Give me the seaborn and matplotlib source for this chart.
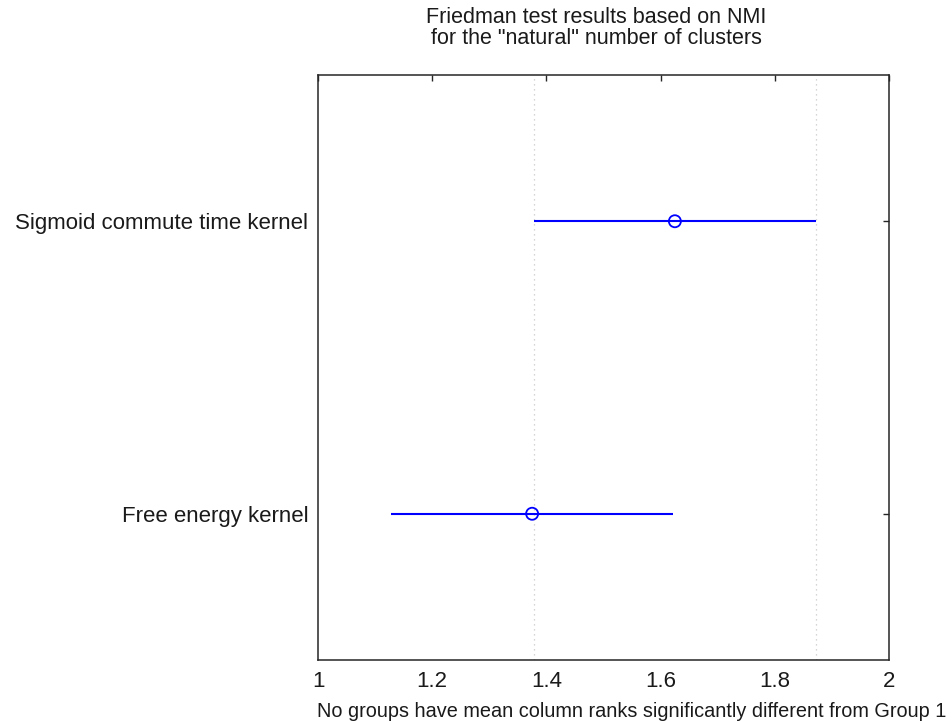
import matplotlib
matplotlib.use("Agg")
import matplotlib.pyplot as plt
import seaborn as sns
import pandas as pd
import numpy as np

# Data (mean column ranks and comparison intervals)
groups = ["Sigmoid commute time kernel", "Free energy kernel"]
means = [1.625, 1.375]
lower = [1.3785, 1.1285]
upper = [1.8715, 1.6215]
ref_lower = 1.3785   # interval of Group 1 (reference lines)
ref_upper = 1.8715
xticks = [1, 1.2, 1.4, 1.6, 1.8, 2]
xtick_labels = ["1", "1.2", "1.4", "1.6", "1.8", "2"]

title_text = "Friedman test results based on NMI\nfor the \"natural\" number of clusters"
xlabel_text = "No groups have mean column ranks significantly different from Group 1"

sns.set_style("white")
plt.rcParams['font.family'] = ['Liberation Sans', 'DejaVu Sans']

df = pd.DataFrame({"group": groups, "mean": means, "lower": lower,
                   "upper": upper, "pos": np.arange(1, len(groups) + 1)})

fig = plt.figure(figsize=(9.52, 7.21), dpi=100)
ax = fig.add_axes([318 / 952, 1 - 660 / 721, (889 - 318) / 952, (660 - 75) / 721])

# reference dotted lines
for v in (ref_lower, ref_upper):
    ax.axvline(v, color="#c8c8c8", linestyle=(0, (1, 3)), linewidth=0.9, zorder=1)

ax.hlines(df["pos"], df["lower"], df["upper"], color="#0000ff", linewidth=1.5, zorder=2)
sns.scatterplot(data=df, x="mean", y="pos", ax=ax, marker="o", s=75,
                facecolor="none", edgecolor="#0000ff", linewidth=1.3, zorder=3,
                legend=False)

ax.set_xlim(1, 2)
ax.set_ylim(len(groups) + 0.5, 0.5)
ax.set_xticks(xticks)
ax.set_xticklabels(xtick_labels)
ax.set_yticks(df["pos"])
ax.set_yticklabels(groups)

ax.tick_params(axis="both", direction="in", length=4.5, width=1.0, color="#262626",
               labelsize=16, labelcolor="#1a1a1a", top=True, right=True)
ax.tick_params(axis="x", pad=8)
ax.tick_params(axis="y", pad=7)
for sp in ax.spines.values():
    sp.set_color("#262626")
    sp.set_linewidth(1.1)
    sp.set_visible(True)

ax.set_ylabel("")
ax.set_xlabel(xlabel_text, fontsize=14.3, color="#1a1a1a")
ax.xaxis.set_label_coords((632 - 318) / 571, -0.072)
ax.set_title(title_text, fontsize=15.5, color="#1a1a1a", pad=22, linespacing=1.0,
             x=(596 - 318) / 571)

fig.savefig("out.png", dpi=100, facecolor="white")
